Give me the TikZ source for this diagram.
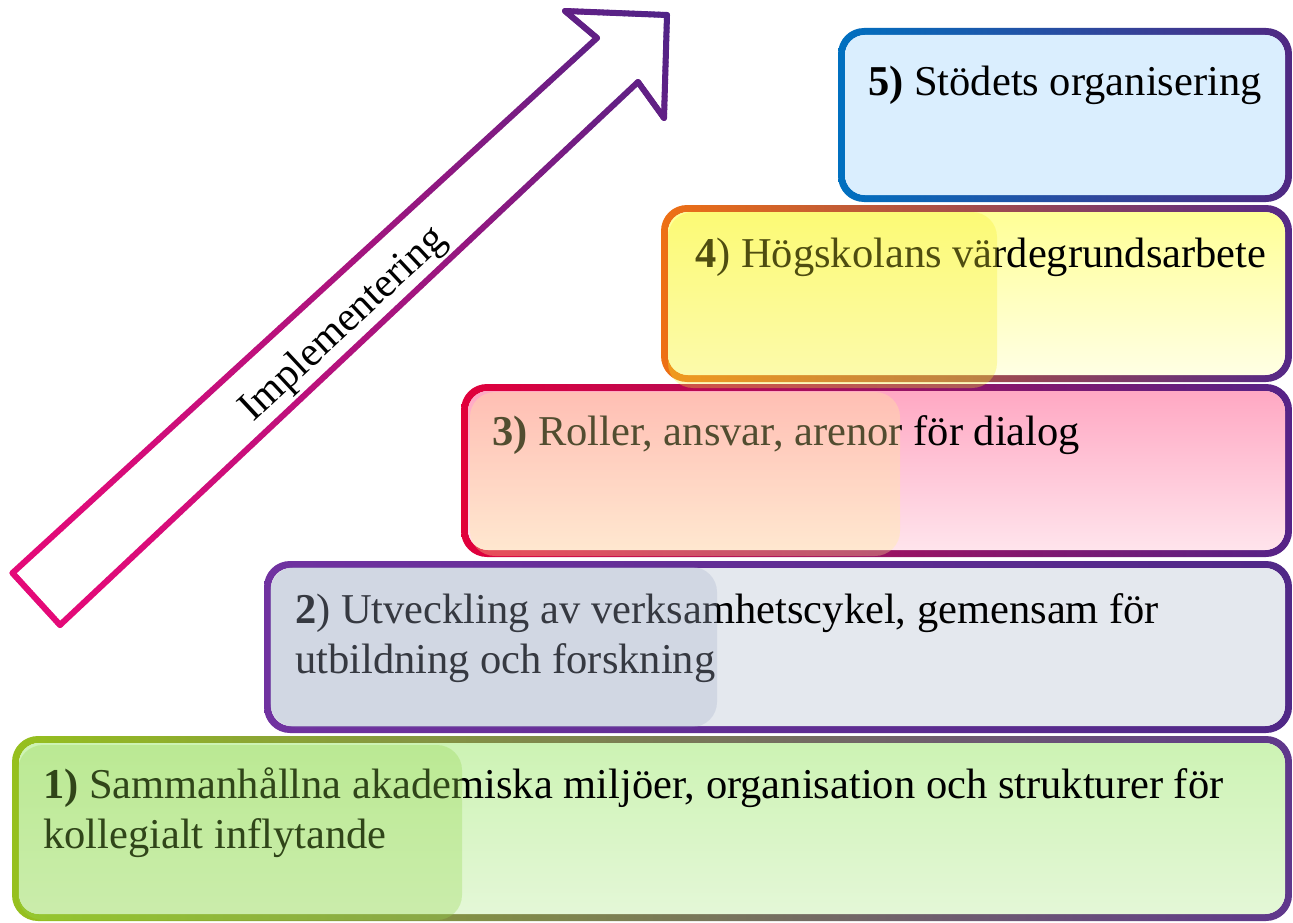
\documentclass[tikz,border=0pt]{standalone}
\usepackage{fontspec}
\setmainfont{Liberation Serif}
\usetikzlibrary{calc}
\definecolor{b1l}{RGB}{150,192,30}
\definecolor{b1r}{RGB}{95,55,140}
\definecolor{b1t}{RGB}{205,243,180}
\definecolor{b1b}{RGB}{228,247,215}
\definecolor{b2l}{RGB}{112,50,160}
\definecolor{b2r}{RGB}{80,40,135}
\definecolor{b2t}{RGB}{228,232,238}
\definecolor{b2b}{RGB}{228,232,238}
\definecolor{b3l}{RGB}{225,0,60}
\definecolor{b3r}{RGB}{85,35,135}
\definecolor{b3t}{RGB}{255,168,195}
\definecolor{b3b}{RGB}{255,228,236}
\definecolor{b4l}{RGB}{238,112,20}
\definecolor{b4r}{RGB}{85,40,135}
\definecolor{b4t}{RGB}{255,255,150}
\definecolor{b4b}{RGB}{255,255,228}
\definecolor{b5l}{RGB}{0,112,192}
\definecolor{b5r}{RGB}{80,40,130}
\definecolor{b5t}{RGB}{218,238,254}
\definecolor{b5b}{RGB}{218,238,254}
\definecolor{o1}{RGB}{150,215,80}
\definecolor{o2}{RGB}{170,180,205}
\definecolor{o3}{RGB}{255,240,150}
\definecolor{o4}{RGB}{248,242,50}
\definecolor{arrA}{RGB}{228,10,120}
\definecolor{arrB}{RGB}{80,35,135}
\newcommand{\ringbox}[8]{%
  \shade[even odd rule, left color=#5, right color=#6, rounded corners=26pt]
    (#1,#2) rectangle (#3,#4)
    [rounded corners=20pt] ($(#1,#2)+(7,7)$) rectangle ($(#3,#4)+(-7,-7)$);
  \shade[top color=#7, bottom color=#8, rounded corners=20pt]
    ($(#1,#2)+(7,7)$) rectangle ($(#3,#4)+(-7,-7)$);
}
\begin{document}
\begin{tikzpicture}[x=1pt,y=-1pt,
  boxtext/.style={anchor=base west, inner sep=0pt, align=left, font=\fontsize{42.5}{50}\selectfont},
  glow/.style={rounded corners=25pt, opacity=0.32},
  arrowline/.style={line width=6pt, line cap=round}]
\useasboundingbox[fill=white] (0,0) rectangle (1293,923);

% Box 1
\ringbox{12}{736}{1292}{921}{b1l}{b1r}{b1t}{b1b}
\node[boxtext] (t1) at (43,848) {\textbf{1)} Sammanhållna akademiska miljöer, organisation och strukturer för\\kollegialt inflytande};
\fill[glow, fill=o1] (18,745) rectangle (462,920);

% Box 2
\ringbox{264}{561}{1292}{733}{b2l}{b2r}{b2t}{b2b}
\node[boxtext] (t2) at (295,673) {\textbf{2}) Utveckling av verksamhetscykel, gemensam för\\utbildning och forskning};
\fill[glow, fill=o2] (270,567) rectangle (717,727);

% Box 3
\ringbox{461}{384}{1292}{557}{b3l}{b3r}{b3t}{b3b}
\node[boxtext] (t3) at (492,445) {\textbf{3)} Roller, ansvar, arenor för dialog};
\fill[glow, fill=o3] (470,392) rectangle (900,556);

% Box 4
\ringbox{661}{205}{1292}{382}{b4l}{b4r}{b4t}{b4b}
\node[boxtext] (t4) at (695,267) {\textbf{4}) Högskolans värdegrundsarbete};
\fill[glow, fill=o4] (668,212) rectangle (997,388);

% Box 5
\ringbox{838}{28}{1292}{202}{b5l}{b5r}{b5t}{b5b}
\node[boxtext] (t5) at (868,96) {\textbf{5)} Stödets organisering};

% Arrow outline with gradient
\foreach \ax/\ay/\bx/\by in {12.5/573/60/625, 60/625/638/82, 638/82/664/118, 664/118/667/15, 667/15/565/11, 565/11/597/38, 597/38/12.5/573}{
  \foreach \i in {1,...,24}{
    \pgfmathsetmacro\ta{(\i-1)/24}
    \pgfmathsetmacro\tb{\i/24}
    \pgfmathsetmacro\px{\ax+(\bx-\ax)*(\i-0.5)/24}
    \pgfmathsetmacro\py{\ay+(\by-\ay)*(\i-0.5)/24}
    \pgfmathsetmacro\sv{max(0.001,min(1,(\px-\py+565)/1217))}
    \pgfmathsetmacro\pc{100*\sv^1.4}
    \draw[arrowline, draw=arrB!\pc!arrA] ($(\ax,\ay)!\ta!(\bx,\by)$) -- ($(\ax,\ay)!\tb!(\bx,\by)$);
  }
}
\node[rotate=43, inner sep=0pt, font=\fontsize{41.5}{50}\selectfont] (impl) at (344,325) {Implementering};
\end{tikzpicture}
\end{document}
